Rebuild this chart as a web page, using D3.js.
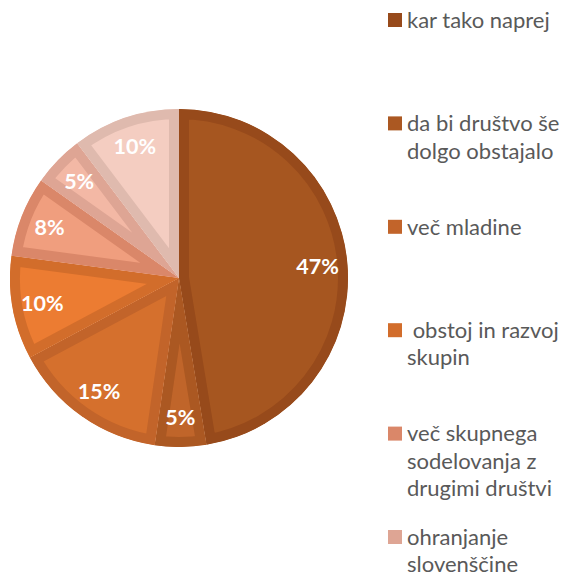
<!DOCTYPE html>
<html>
<head>
<meta charset="utf-8">
<script src="https://cdn.jsdelivr.net/npm/d3@7"></script>
<style>
  body { margin: 0; background: #fff; }
  svg { display: block; }
</style>
</head>
<body>
<div class="grp"></div>
<script>
// data (shares)
var categories = ['kar tako naprej', 'da bi društvo še\ndolgo obstajalo', 'več mladine',
    ' obstoj in razvoj\nskupin', 'več skupnega\nsodelovanja z\ndrugimi društvi',
    'ohranjanje\nslovenščine', '']   // 7th legend entry falls below the window
var values = [47.4, 4.9, 14.9, 9.9, 7.7, 4.9, 10.3]
var fills = ['#a65620', '#c0652a', '#d5702d', '#ec7c32', '#f09e7e', '#f3b8a5', '#f4cdc1']
var borders = ['#974a1b', '#ab5822', '#c2642a', '#d26d2b', '#da8769', '#dea594', '#dfbaae']

var width = 565, height = 576
var cx = 179, cy = 278, radius = 169

var svg = d3.select('.grp').append('svg')
    .attr('width', width)
    .attr('height', height)

var pie = d3.pie().sort(null).value(function (d) { return d })
var arcs = pie(values)
var total = d3.sum(values)
var arc = d3.arc().innerRadius(0).outerRadius(radius)
var labelArc = d3.arc().innerRadius(139).outerRadius(139)

var defs = svg.append('defs')
var g = svg.append('g').attr('transform', 'translate(' + cx + ',' + cy + ')')

arcs.forEach(function (a, i) {
    defs.append('clipPath').attr('id', 'clip' + i)
        .append('path').attr('d', arc(a))
    // thick inner border, like the office chart style
    g.append('path')
        .attr('d', arc(a))
        .attr('fill', fills[i])
        .attr('stroke', borders[i])
        .attr('stroke-width', 20)
        .attr('stroke-linejoin', 'miter')
        .attr('clip-path', 'url(#clip' + i + ')')
})

g.selectAll('.lbl')
    .data(arcs)
    .enter().append('text')
    .attr('class', 'lbl')
    .attr('transform', function (d) { return 'translate(' + labelArc.centroid(d) + ')' })
    .attr('text-anchor', 'middle')
    .attr('dy', '0.36em')
    .style('font-family', 'Lato, sans-serif')
    .style('font-weight', 'bold')
    .style('font-size', '21.5px')
    .attr('fill', '#fff')
    .text(function (d) { return Math.round(d.value / total * 100) + '%' })

// legend
var legend = svg.append('g')
var step = 103.4, lineH = 27.5
categories.forEach(function (c, i) {
    if (c === '') return
    var y0 = 20 + i * step
    legend.append('rect')
        .attr('x', 388).attr('y', y0 - 7)
        .attr('width', 14).attr('height', 14)
        .attr('fill', borders[i])
    var t = legend.append('text')
        .attr('fill', '#595959')
        .style('font-family', 'Lato, sans-serif')
        .style('font-size', '22px')
        .style('white-space', 'pre')
    c.split('\n').forEach(function (line, j) {
        t.append('tspan')
            .attr('x', 407)
            .attr('y', y0 + j * lineH)
            .attr('dy', '0.35em')
            .text(line)
    })
})
</script>
</body>
</html>
